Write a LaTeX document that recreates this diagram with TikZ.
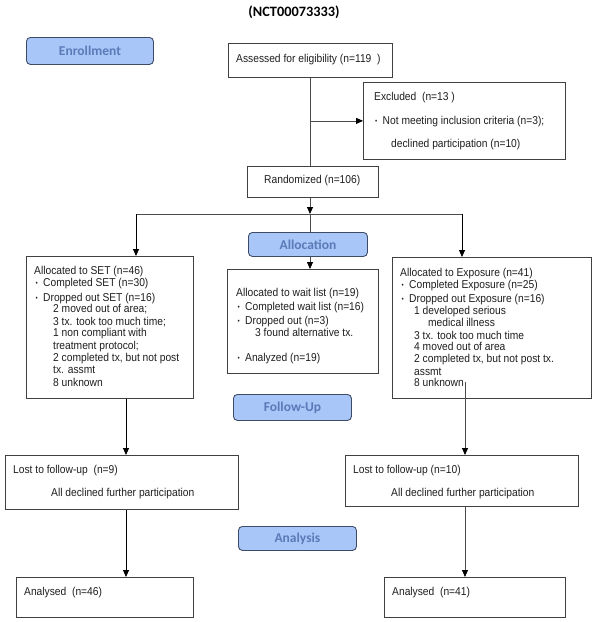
\documentclass[tikz,border=0pt]{standalone}
\usepackage{fontspec}
\setmainfont{Liberation Sans}
\newfontfamily\bodyfam[FakeStretch=0.9]{Liberation Sans}
\newfontfamily\carlito{Carlito}
\usetikzlibrary{arrows.meta}
\definecolor{phasefill}{HTML}{A9C6F8}
\definecolor{phaseborder}{HTML}{3E4B66}
\definecolor{phasetext}{HTML}{5A7AB8}
\newcommand\bodyfont{\bodyfam\fontsize{11.4}{12}\selectfont}
\newcommand\mybul{\makebox[7.5pt][l]{\fontsize{7}{7}\selectfont\raisebox{0.6pt}{•}}}
\tikzset{
  boxst/.style={draw=black!75, line width=0.8pt, inner sep=0pt, anchor=north west, fill=white},
  phasest/.style={draw=phaseborder, fill=phasefill, rounded corners=4pt, line width=0.9pt,
    inner sep=0pt, anchor=north west, font=\carlito\bfseries\fontsize{13.5}{14}\selectfont, text=phasetext},
  txt/.style={anchor=base west, inner sep=0pt, font=\bodyfont, text=black!88},
  conn/.style={draw=black!70, line width=0.8pt},
  arr/.style={conn, -{Triangle[length=7pt,width=6pt,color=black]}},
  darr/.style={arr, draw=black}
}
\newcommand\mkbox[6][boxst]{\node[#1, minimum width={(#5-#3)*1pt}, minimum height={(#6-#4)*1pt}] (#2) at (#3,#4) {};}
\newcommand\tl[4]{\node[txt] (#1) at (#2,#3) {#4};}
\begin{document}
\begin{tikzpicture}[x=1pt,y=-1pt]
\useasboundingbox (0,0) rectangle (607,622);
% title
\node[font=\carlito\bfseries\fontsize{14.3}{15}\selectfont, inner sep=0pt] (title) at (294,12) {(NCT00073333)};
% phase boxes
\node[phasest, minimum width=127pt, minimum height=27pt] (enroll) at (26,37) {Enrollment};
\node[phasest, minimum width=119pt, minimum height=24pt] (alloc) at (248,232) {Allocation};
\node[phasest, minimum width=118pt, minimum height=26pt] (follow) at (233,394) {Follow-Up};
\node[phasest, minimum width=118pt, minimum height=24pt] (analysis) at (238,526) {Analysis};
% boxes
\mkbox{assess}{228}{43}{392}{77}
\mkbox{excl}{363}{82}{565}{159}
\mkbox{rand}{247}{166}{378}{197}
\mkbox{set}{26}{256}{193}{398}
\mkbox{wait}{227}{269}{378}{373}
\mkbox{expo}{392}{257}{591}{398}
\mkbox{lostL}{5}{455}{238}{509}
\mkbox{lostR}{345}{455}{578}{506}
\mkbox{anaL}{16}{577}{193}{617}
\mkbox{anaR}{384}{577}{565}{617}
% texts
\tl{t1}{236}{62.5}{Assessed for eligibility (n=119\ \ )}
\tl{t2}{374}{100.5}{Excluded\ \ (n=13 )}
\tl{t3}{375}{124.5}{\mybul Not meeting inclusion criteria (n=3);}
\tl{t4}{391}{147.5}{declined participation (n=10)}
\tl{t5}{264}{183.5}{Randomized (n=106)}
% SET
\tl{s1}{34}{274}{Allocated to SET (n=46)}
\tl{s2}{35.5}{286.5}{\mybul Completed SET (n=30)}
\tl{s3}{35.5}{301.5}{\mybul Dropped out SET (n=16)}
\tl{s4}{53}{312.5}{2 moved out of area;}
\tl{s5}{53}{325}{3 tx. took too much time;}
\tl{s6}{53}{336.5}{1 non compliant with}
\tl{s7}{53}{349}{treatment protocol;}
\tl{s8}{53}{361.5}{2 completed tx, but not post}
\tl{s9}{53}{373}{tx. assmt}
\tl{s10}{53}{386}{8 unknown}
% wait list
\tl{w1}{236}{296}{Allocated to wait list (n=19)}
\tl{w2}{237.5}{310.5}{\mybul Completed wait list (n=16)}
\tl{w3}{237.5}{324}{\mybul Dropped out (n=3)}
\tl{w4}{255}{336}{3 found alternative tx.}
\tl{w5}{237.5}{361.5}{\mybul Analyzed (n=19)}
% exposure
\tl{e1}{400}{276}{Allocated to Exposure (n=41)}
\tl{e2}{401.5}{288}{\mybul Completed Exposure (n=25)}
\tl{e3}{401.5}{302}{\mybul Dropped out Exposure (n=16)}
\tl{e4}{414}{314}{1 developed serious}
\tl{e5}{428}{326.5}{medical illness}
\tl{e6}{414}{339}{3 tx. took too much time}
\tl{e7}{414}{350.5}{4 moved out of area}
\tl{e8}{414}{362.5}{2 completed tx, but not post tx.}
\tl{e9}{414}{375}{assmt}
\tl{e10}{414}{386.5}{8 unknown}
% lost / analysed
\tl{l1}{13}{473.5}{Lost to follow-up\ \ (n=9)}
\tl{l2}{51}{496.5}{All declined further participation}
\tl{l3}{353}{473.5}{Lost to follow-up (n=10)}
\tl{l4}{391}{496.5}{All declined further participation}
\tl{a1}{24}{595.5}{Analysed\ \ (n=46)}
\tl{a2}{392}{595.5}{Analysed\ \ (n=41)}
% connector coordinates
\coordinate (trunk) at (310,0);
\coordinate (bar) at (310,214);
\coordinate (barL) at (136,214);
\coordinate (barR) at (462,214);
\coordinate (colL) at (126,0);
\coordinate (colR) at (465,382);
% connectors
\draw[conn] (assess.south -| trunk) -- (rand.north -| trunk);
\draw[arr] (excl.west -| trunk) -- (excl.west);
\draw[arr] (rand.south -| trunk) -- (bar);
\draw[conn] (barL) -- (barR);
\draw[conn] (bar) -- (alloc.north -| trunk);
\draw[darr] (barL) -- (barL |- set.north);
\draw[darr] (barR) -- (barR |- expo.north);
\draw[arr] (alloc.south -| trunk) -- (wait.north -| trunk);
\draw[darr] (colL |- set.south) -- (colL |- lostL.north);
\draw[darr] (colL |- lostL.south) -- (colL |- anaL.north);
\draw[arr] (colR) -- (colR |- lostR.north);
\draw[arr] (colR |- lostR.south) -- (colR |- anaR.north);
\end{tikzpicture}
\end{document}
